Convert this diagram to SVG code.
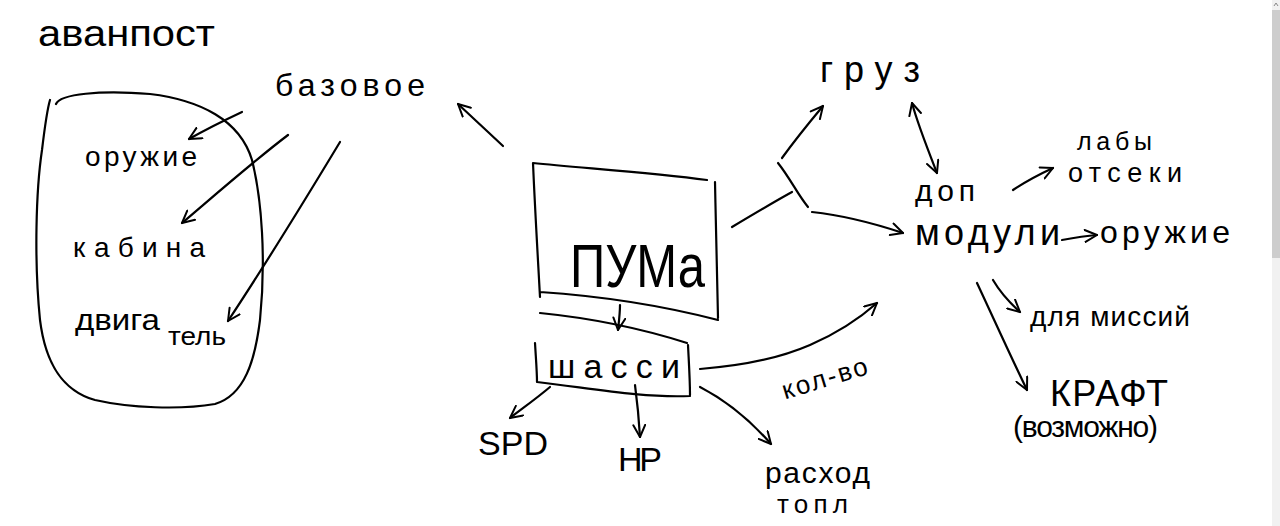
<svg xmlns="http://www.w3.org/2000/svg" width="1280" height="526" viewBox="0 0 1280 526">
<defs>
<marker id="ah" viewBox="0 0 14 14" refX="13" refY="7" markerWidth="14" markerHeight="14" markerUnits="userSpaceOnUse" orient="auto-start-reverse">
<path d="M1,1 L13,7 L1,13" fill="none" stroke="#000" stroke-width="2" stroke-linecap="round" stroke-linejoin="round"/>
</marker>
<style>
.t{font-family:"Liberation Sans","Noto Sans",sans-serif;fill:#000}
.s{fill:none;stroke:#000;stroke-width:2.2;stroke-linecap:round;stroke-linejoin:round}
.a{marker-end:url(#ah)}
</style>
</defs>
<rect width="1280" height="526" fill="#fff"/>
<g id="scrollbar">
<rect x="1272" y="0" width="8" height="526" fill="#f1f1f1"/>
<rect x="1272" y="10" width="8" height="248" fill="#cdcdcd"/>
<path d="M1274,6 L1276,3 L1278,6" fill="none" stroke="#888" stroke-width="1"/>
</g>
<g id="outpost">
<path class="s" d="M56,104 C60,94 100,90 150,94 C200,100 240,120 252,160 C262,200 266,260 260,320 C255,360 245,395 215,404 C180,410 130,408 95,400 C60,390 45,360 40,320 C34,260 36,190 42,150 C45,125 47,110 50,100"/>
<text class="t" x="38" y="46" font-size="36" textLength="177" lengthAdjust="spacingAndGlyphs">аванпост</text>
</g>
<g id="base">
<text class="t" x="275" y="96" font-size="32" textLength="150" lengthAdjust="spacing">базовое</text>
</g>
<g id="weapon-left">
<text class="t" x="85" y="166" font-size="28" textLength="112" lengthAdjust="spacing">оружие</text>
</g>
<g id="cabin">
<text class="t" x="73" y="257" font-size="28" textLength="132" lengthAdjust="spacing">кабина</text>
</g>
<g id="engine">
<text class="t" x="75" y="330" font-size="30" textLength="85" lengthAdjust="spacingAndGlyphs">двига</text>
<text class="t" x="168" y="345" font-size="26" textLength="58" lengthAdjust="spacingAndGlyphs">тель</text>
</g>
<g id="puma">
<path class="s" d="M533,163 C580,168 650,172 707,180 M715,182 C716,230 717,280 718,318 M533,163 C535,210 538,260 540,297 M540,292 C600,296 660,305 718,320"/>
<text class="t" x="570" y="287" font-size="62" textLength="135" lengthAdjust="spacingAndGlyphs">ПУМа</text>
</g>
<g id="chassis">
<path class="s" d="M540,313 C590,318 640,328 687,343 M688,345 C689,365 690,380 690,395 M535,343 C536,360 537,372 537,382 M537,382 C590,388 640,398 690,396"/>
<text class="t" x="548" y="378" font-size="34" textLength="132" lengthAdjust="spacing">шасси</text>
</g>
<g id="spd">
<text class="t" x="478" y="455" font-size="34" textLength="70" lengthAdjust="spacing">SPD</text>
</g>
<g id="hp">
<text class="t" x="618" y="471" font-size="34" textLength="44" lengthAdjust="spacing">HP</text>
</g>
<g id="fuel">
<text class="t" x="765" y="483" font-size="30" textLength="105" lengthAdjust="spacing">расход</text>
<text class="t" x="777" y="513" font-size="26" textLength="71" lengthAdjust="spacing">топл</text>
</g>
<g id="cargo">
<text class="t" x="820" y="82" font-size="36" textLength="100" lengthAdjust="spacing">груз</text>
</g>
<g id="modules">
<text class="t" x="915" y="201" font-size="30" textLength="60" lengthAdjust="spacing">доп</text>
<text class="t" x="915" y="245" font-size="36" textLength="145" lengthAdjust="spacing">модули</text>
</g>
<g id="labs">
<text class="t" x="1077" y="150" font-size="25" textLength="75" lengthAdjust="spacing">лабы</text>
<text class="t" x="1068" y="182" font-size="27" textLength="114" lengthAdjust="spacing">отсеки</text>
</g>
<g id="weapon-right">
<text class="t" x="1100" y="243" font-size="32" textLength="130" lengthAdjust="spacing">оружие</text>
</g>
<g id="missions">
<text class="t" x="1030" y="326" font-size="28" textLength="160" lengthAdjust="spacing">для миссий</text>
</g>
<g id="craft">
<text class="t" x="1050" y="406" font-size="36" textLength="118" lengthAdjust="spacing">КРАФТ</text>
<text class="t" x="1013" y="437" font-size="30" textLength="145" lengthAdjust="spacing">(возможно)</text>
</g>
<g id="connectors">
<path class="s a" d="M242,112 C225,120 205,130 189,139"/>
<path class="s a" d="M288,135 C255,160 215,195 182,223"/>
<path class="s a" d="M340,142 C305,200 265,265 228,321"/>
<path class="s a" d="M503,146 C488,132 472,117 458,104"/>
<path class="s a" d="M620,305 C620,313 619,321 618,330"/>
<path class="s a" d="M550,387 C537,398 523,408 510,418"/>
<path class="s a" d="M635,385 C637,400 639,420 640,437"/>
<path class="s a" d="M700,387 C725,400 750,420 771,444"/>
<path class="s a" d="M700,369 C740,366 780,358 810,345 C840,332 860,318 877,303"/>
<text class="t" x="778" y="388" font-size="26" textLength="88" lengthAdjust="spacing" transform="rotate(-17 820 370)">кол-во</text>
<path class="s" d="M732,227 C752,215 772,203 792,192"/>
<path class="s" d="M778,163 C790,178 798,195 808,207"/>
<path class="s a" d="M782,158 C795,140 808,124 823,106"/>
<path class="s a" d="M812,212 C840,215 870,222 903,233"/>
<path class="s a" d="M912,103 C918,125 928,150 937,173" style="marker-start:url(#ah)"/>
<path class="s a" d="M1013,190 C1025,182 1040,174 1053,168"/>
<path class="s a" d="M1062,240 C1073,238 1085,236 1097,235"/>
<path class="s a" d="M993,280 C1000,292 1010,303 1020,312"/>
<path class="s a" d="M977,283 C992,315 1010,355 1027,390"/>
</g>
</svg>
